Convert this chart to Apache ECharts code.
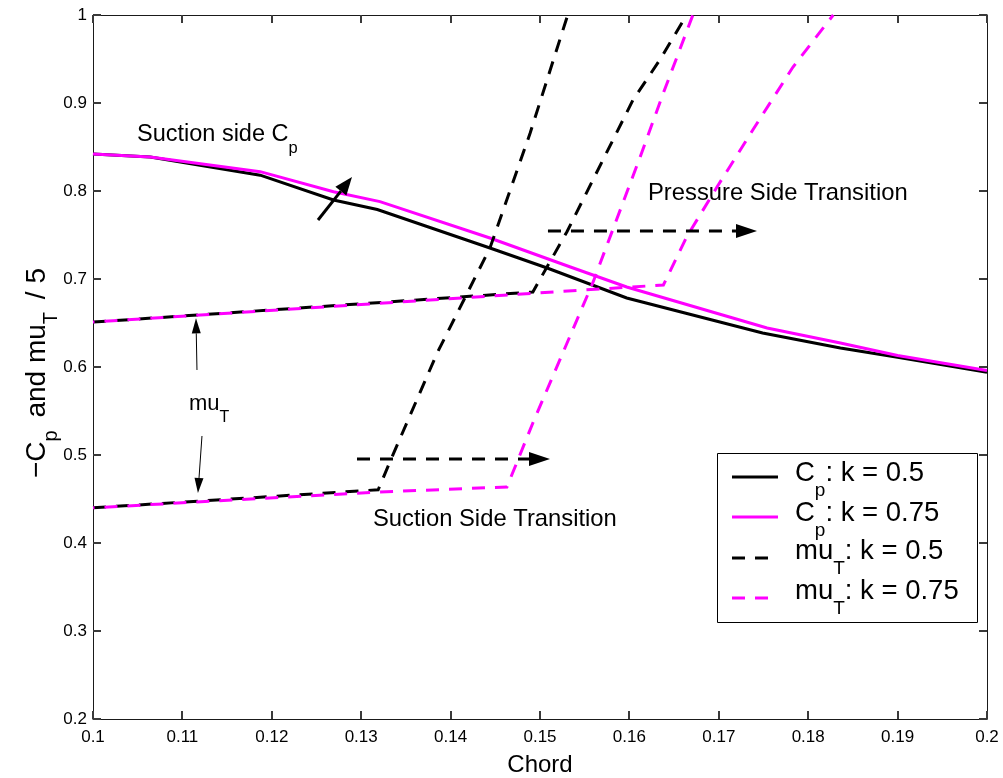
<!DOCTYPE html>
<html>
<head>
<meta charset="utf-8">
<script src="https://cdn.jsdelivr.net/npm/echarts@6/dist/echarts.min.js"></script>
<style>
  html, body { margin: 0; padding: 0; background: #ffffff; }
  #chart { width: 1003px; height: 778px; }
</style>
</head>
<body>
<div id="chart"></div>
<script>
// Axis ranges and tick spacing
const chordRange = [0.1, 0.2];
const chordStep = 0.01;
const valueRange = [0.2, 1];
const valueStep = 0.1;

// -Cp along the suction side, [chord, value]
const cpK05 = [
  [0.1, 0.842], [0.1064, 0.8386], [0.1187, 0.818], [0.1269, 0.7898],
  [0.1318, 0.779], [0.1444, 0.7352], [0.1508, 0.7125], [0.1597, 0.6784],
  [0.1749, 0.6386], [0.1836, 0.6216], [0.19, 0.611], [0.2, 0.594]
];
const cpK075 = [
  [0.1, 0.842], [0.1064, 0.8386], [0.1187, 0.822], [0.1269, 0.7992],
  [0.1321, 0.7879], [0.1444, 0.7466], [0.1534, 0.7136], [0.1597, 0.6909],
  [0.1754, 0.6443], [0.1836, 0.6273], [0.19, 0.613], [0.2, 0.596]
];

// mu_T / 5, suction-side branch (lower) and pressure-side branch (upper)
const muK05Suction = [
  [0.1, 0.44], [0.1319, 0.4605], [0.1332, 0.492], [0.1385, 0.616],
  [0.1444, 0.7352], [0.1489, 0.8659], [0.1531, 1.0]
];
const muK05Pressure = [
  [0.1, 0.651], [0.1407, 0.6793], [0.1492, 0.6852], [0.1530, 0.7534],
  [0.1604, 0.9034], [0.1634, 0.9489], [0.1664, 1.0]
];
const muK075Suction = [
  [0.1, 0.44], [0.1319, 0.458], [0.1463, 0.4636], [0.1492, 0.5364],
  [0.1559, 0.6955], [0.1612, 0.8386], [0.1638, 0.9114], [0.1671, 1.0]
];
const muK075Pressure = [
  [0.1, 0.651], [0.1492, 0.6838], [0.1638, 0.6932], [0.1664, 0.7477],
  [0.1698, 0.8045], [0.1738, 0.8693], [0.1783, 0.9409], [0.1828, 1.0]
];

// Legend entries: [main text, subscript, rest]
const legendEntries = [
  ['C', 'p', ': k = 0.5'],
  ['C', 'p', ': k = 0.75'],
  ['mu', 'T', ': k = 0.5'],
  ['mu', 'T', ': k = 0.75']
];

// Annotation arrows in chart coordinates: [from, to]
const cpArrow = [[0.12517, 0.767], [0.12897, 0.816]];
const pressureArrow = [[0.15089, 0.7545], [0.17427, 0.7545]];
const suctionArrow = [[0.12953, 0.4955], [0.15112, 0.4955]];
const muUpArrow = [[0.11163, 0.5966], [0.11152, 0.6553]];
const muDownArrow = [[0.11219, 0.5216], [0.11174, 0.4568]];

// Annotation text anchors (left edge, baseline) in chart coordinates
const cpLabelAt = [0.10492, 0.8545];
const pressureLabelAt = [0.16208, 0.7875];
const suctionLabelAt = [0.13132, 0.417];
const muLabelAt = [0.11074, 0.5489];

const FONT = '"Liberation Sans", Arial, Helvetica, sans-serif';
const BLACK = '#000000';
const MAGENTA = '#ff00ff';
const DASH = [13, 10];

const chart = echarts.init(document.getElementById('chart'), null, { renderer: 'canvas' });

function lineSeries(name, data, color, dashed, offset) {
  return {
    name: name,
    type: 'line',
    data: data,
    xAxisIndex: 0,
    yAxisIndex: 0,
    showSymbol: false,
    symbol: 'none',
    clip: true,
    silent: true,
    lineStyle: {
      color: color,
      width: 3,
      type: dashed ? DASH : 'solid',
      dashOffset: offset || 0,
      cap: 'butt',
      join: 'miter'
    },
    emphasis: { disabled: true }
  };
}

function axis(extra) {
  return Object.assign({
    type: 'value',
    axisLine: { show: true, lineStyle: { color: '#1a1a1a', width: 1 } },
    axisTick: { show: false },
    splitLine: { show: false }
  }, extra);
}

const option = {
  animation: false,
  grid: { left: 93, top: 15, right: 16, bottom: 59, containLabel: false, outerBoundsMode: 'none' },
  xAxis: [
    axis({
      position: 'bottom',
      min: chordRange[0], max: chordRange[1], interval: chordStep,
      axisLabel: { show: true, color: '#000', fontSize: 17, fontFamily: FONT, margin: 10, showMinLabel: true, showMaxLabel: true, hideOverlap: false },
      name: 'Chord',
      nameLocation: 'middle',
      nameGap: 34,
      nameTextStyle: { color: '#000', fontSize: 24, fontFamily: FONT }
    }),
    axis({
      position: 'top',
      min: chordRange[0], max: chordRange[1], interval: chordStep,
      axisLabel: { show: false }
    })
  ],
  yAxis: [
    axis({
      position: 'left',
      min: valueRange[0], max: valueRange[1], interval: valueStep,
      axisLabel: { show: true, color: '#000', fontSize: 17, fontFamily: FONT, margin: 6, showMinLabel: true, showMaxLabel: true, hideOverlap: false }
    }),
    axis({
      position: 'right',
      min: valueRange[0], max: valueRange[1], interval: valueStep,
      axisLabel: { show: false }
    })
  ],
  series: [
    lineSeries('Cp k=0.5', cpK05, BLACK, false),
    lineSeries('Cp k=0.75', cpK075, MAGENTA, false),
    lineSeries('muT k=0.5', muK05Suction, BLACK, true),
    lineSeries('muT k=0.5', muK05Pressure, BLACK, true),
    lineSeries('muT k=0.75', muK075Suction, MAGENTA, true, 11.5),
    lineSeries('muT k=0.75', muK075Pressure, MAGENTA, true, 11.5)
  ]
};

chart.setOption(option);

// ---- ticks, annotations, legend and rotated axis title ----
const measureCtx = document.createElement('canvas').getContext('2d');
function textWidth(t, size) {
  measureCtx.font = size + 'px ' + FONT;
  return measureCtx.measureText(t).width;
}

// Text made of pieces; each piece is [text, fontSize, drop below baseline, extra gap after]
function richText(parts, x, y, rotation) {
  let cx = 0;
  const children = [];
  parts.forEach(function (p) {
    children.push({
      type: 'text',
      x: cx,
      y: p[2] - 0.347 * p[1],
      style: { text: p[0], font: p[1] + 'px ' + FONT, fill: '#000', align: 'left', verticalAlign: 'middle' }
    });
    cx += textWidth(p[0], p[1]) + (p[3] || 0);
  });
  return { type: 'group', x: x, y: y, rotation: rotation || 0, children: children, silent: true, z: 100 };
}

function toPx(p) {
  return chart.convertToPixel({ xAxisIndex: 0, yAxisIndex: 0 }, p);
}

function arrow(from, to, opts) {
  const a = toPx(from), b = toPx(to);
  const dx = b[0] - a[0], dy = b[1] - a[1];
  const L = Math.hypot(dx, dy);
  const ux = dx / L, uy = dy / L;
  const base = [b[0] - ux * opts.headLen, b[1] - uy * opts.headLen];
  const hw = opts.headWidth / 2;
  return [
    {
      type: 'polyline', silent: true, z: 100,
      shape: { points: [a, base] },
      style: { stroke: '#000', lineWidth: opts.width, lineDash: opts.dash || null, fill: null }
    },
    {
      type: 'polygon', silent: true, z: 101,
      shape: { points: [b, [base[0] - uy * hw, base[1] + ux * hw], [base[0] + uy * hw, base[1] - ux * hw]] },
      style: { fill: '#000', stroke: null }
    }
  ];
}

function tickLine(x1, y1, x2, y2) {
  return {
    type: 'line', silent: true, z: 200,
    shape: { x1: x1, y1: y1, x2: x2, y2: y2 },
    style: { stroke: '#3a3a3a', lineWidth: 2 }
  };
}

const elements = [];

// Inward ticks on all four sides of the plot box
const TICK = 8;
const bl = toPx([chordRange[0], valueRange[0]]);
const tr = toPx([chordRange[1], valueRange[1]]);
const nX = Math.round((chordRange[1] - chordRange[0]) / chordStep);
for (let i = 0; i <= nX; i++) {
  const x = Math.round(toPx([chordRange[0] + i * chordStep, valueRange[0]])[0]);
  elements.push(tickLine(x, bl[1], x, bl[1] - TICK));
  elements.push(tickLine(x, tr[1], x, tr[1] + TICK));
}
const nY = Math.round((valueRange[1] - valueRange[0]) / valueStep);
for (let i = 0; i <= nY; i++) {
  const y = Math.round(toPx([chordRange[0], valueRange[0] + i * valueStep])[1]);
  elements.push(tickLine(bl[0], y, bl[0] + TICK, y));
  elements.push(tickLine(tr[0], y, tr[0] - TICK, y));
}

elements.push.apply(elements, arrow(cpArrow[0], cpArrow[1], { width: 3, headLen: 18, headWidth: 14 }));
elements.push.apply(elements, arrow(pressureArrow[0], pressureArrow[1], { width: 3, headLen: 21, headWidth: 14, dash: DASH }));
elements.push.apply(elements, arrow(suctionArrow[0], suctionArrow[1], { width: 3, headLen: 21, headWidth: 14, dash: DASH }));
elements.push.apply(elements, arrow(muUpArrow[0], muUpArrow[1], { width: 1, headLen: 15, headWidth: 9 }));
elements.push.apply(elements, arrow(muDownArrow[0], muDownArrow[1], { width: 1, headLen: 15, headWidth: 9 }));

let p = toPx(cpLabelAt);
elements.push(richText([['Suction side C', 23.5, 0], ['p', 16.5, 11]], p[0], p[1]));
p = toPx(pressureLabelAt);
elements.push(richText([['Pressure Side Transition', 23.8, 0]], p[0], p[1]));
p = toPx(suctionLabelAt);
elements.push(richText([['Suction Side Transition', 23.8, 0]], p[0], p[1]));
p = toPx(muLabelAt);
elements.push(richText([['mu', 22, 0], ['T', 16, 11]], p[0], p[1]));

// y-axis title, reading bottom to top
elements.push(richText([['\u2212C', 28, 0], ['p', 20, 11, 5], [' and mu', 28, 0], ['T', 20, 11, 5], [' / 5', 28, 0]], 47, 478, Math.PI / 2));

// Legend box
const legendBox = { x: 717, y: 453, w: 260, h: 169 };
elements.push({
  type: 'rect', silent: true, z: 110,
  shape: { x: legendBox.x + 0.5, y: legendBox.y + 0.5, width: legendBox.w, height: legendBox.h },
  style: { fill: '#ffffff', stroke: '#000', lineWidth: 1 }
});
const legendRows = [477, 517, 558, 598];
const legendBaselines = [483, 523, 561, 601];
const legendStyles = [[BLACK, false], [MAGENTA, false], [BLACK, true], [MAGENTA, true]];
legendEntries.forEach(function (e, i) {
  elements.push({
    type: 'line', silent: true, z: 111,
    shape: { x1: 732, y1: legendRows[i], x2: 778, y2: legendRows[i] },
    style: { stroke: legendStyles[i][0], lineWidth: 3, lineDash: legendStyles[i][1] ? DASH : null }
  });
  const g = richText([[e[0], 27.5, 0], [e[1], 19, 14], [e[2], 27.5, 0]], 795, legendBaselines[i]);
  g.z = 112;
  g.children.forEach(function (c) { c.z = 112; });
  elements.push(g);
});

chart.setOption({ graphic: { elements: elements } });
</script>
</body>
</html>
